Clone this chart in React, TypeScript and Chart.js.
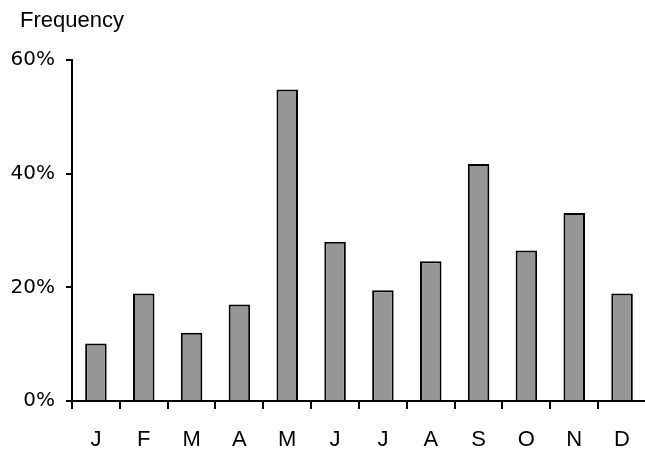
import React, { useEffect, useRef } from "react";
import { Chart, registerables } from "chart.js";

Chart.register(...registerables);

const months = ["J", "F", "M", "A", "M", "J", "J", "A", "S", "O", "N", "D"];
const frequency = [10.1, 18.9, 12.0, 17.0, 54.8, 28.0, 19.5, 24.6, 41.7, 26.5, 33.1, 18.9];
const yMin = 0;
const yMax = 60;
const yStep = 20;
const axisTitle = "Frequency";

export default function App() {
  const ref = useRef<HTMLCanvasElement>(null);

  useEffect(() => {
    const cornerTitle = {
      id: "cornerTitle",
      afterDraw(chart: any) {
        const ctx = chart.ctx;
        ctx.save();
        ctx.font = "22px 'Liberation Sans', Arial, sans-serif";
        ctx.fillStyle = "#000";
        ctx.textAlign = "left";
        ctx.textBaseline = "alphabetic";
        ctx.fillText(axisTitle, 20, 27);
        ctx.restore();
      },
    };

    const chart = new Chart(ref.current as HTMLCanvasElement, {
      type: "bar",
      data: {
        labels: months,
        datasets: [
          {
            data: frequency,
            backgroundColor: "#969696",
            borderColor: "#000000",
            borderWidth: 2,
            categoryPercentage: 1,
            barPercentage: 0.45,
          },
        ],
      },
      options: {
        animation: false,
        responsive: false,
        maintainAspectRatio: false,
        layout: { padding: { top: 60, left: 0, right: 0, bottom: 0 } },
        plugins: {
          legend: { display: false },
          tooltip: { enabled: false },
          title: { display: false },
        },
        scales: {
          x: {
            offset: true,
            grid: {
              offset: true,
              drawOnChartArea: false,
              drawTicks: true,
              tickLength: 8,
              lineWidth: 2,
              color: "#000",
            },
            border: { display: true, color: "#000", width: 2 },
            ticks: {
              color: "#000",
              padding: 18,
              font: { family: "'Liberation Sans', Arial, sans-serif", size: 22 },
              maxRotation: 0,
              autoSkip: false,
            },
            afterFit(scale: any) {
              scale.height = 49;
            },
          },
          y: {
            min: yMin,
            max: yMax,
            grid: {
              drawOnChartArea: false,
              drawTicks: true,
              tickLength: 6,
              lineWidth: 2,
              color: "#000",
            },
            border: { display: true, color: "#000", width: 2 },
            ticks: {
              stepSize: yStep,
              color: "#000",
              padding: 11,
              font: { family: "'DejaVu Sans', Verdana, sans-serif", size: 20 },
              callback: (v: any) => v + "%",
            },
            afterFit(scale: any) {
              scale.width = 72;
            },
          },
        },
      },
      plugins: [cornerTitle],
    });

    return () => chart.destroy();
  }, []);

  return (
    <div
      style={{
        position: "fixed",
        left: 0,
        top: 0,
        width: 645,
        height: 450,
        overflow: "hidden",
        background: "#fff",
      }}
    >
      <canvas ref={ref} width={648} height={450} style={{ display: "block" }} />
    </div>
  );
}
